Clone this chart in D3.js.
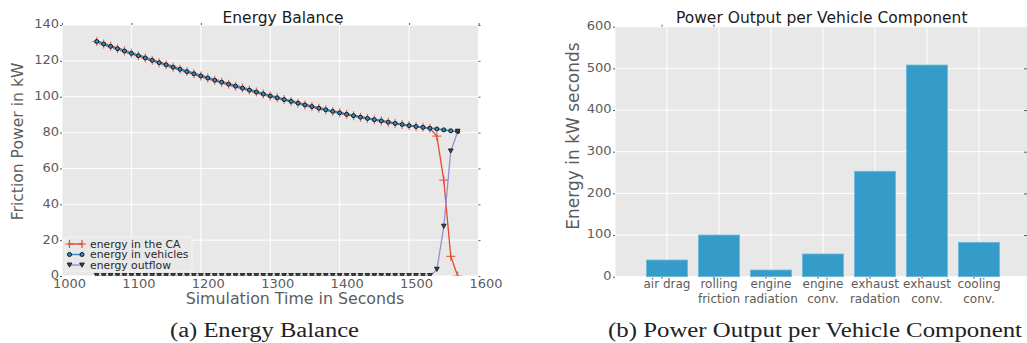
<html>
  <head>
    <script src="https://d3js.org/d3.v7.min.js"></script>
    <style>
      body { margin: 0; background: white; }
      text { font-family: "DejaVu Sans", sans-serif; }
      .tick text { fill: #5c5c5c; font-size: 13px; }
      .tick line { stroke: #5c5c5c; }
      .domain { display: none; }
      .grid line { stroke: white; stroke-width: 1; }
      .caption { font-family: "Liberation Serif", serif; font-size: 20px; fill: #222; }
      .title { font-size: 15.5px; fill: #1a1a1a; }
      .axis-label { fill: #5c5c5c; }
    </style>
  </head>
  <body>
    <svg id="chart" width="1027" height="343"></svg>
    <script>
      // ---- (a) energy balance ----
      var times = [1050,1060,1070,1080,1090,1100,1110,1120,1130,1140,1150,1160,1170,1180,1190,
        1200,1210,1220,1230,1240,1250,1260,1270,1280,1290,1300,1310,1320,1330,1340,1350,1360,
        1370,1380,1390,1400,1410,1420,1430,1440,1450,1460,1470,1480,1490,1500,1510,1520,1530,
        1540,1550,1560,1570];
      var energyVehicles = [130.8,129.4,128.1,126.8,125.5,124.2,122.9,121.6,120.3,119.0,117.8,
        116.5,115.3,114.0,112.8,111.6,110.4,109.2,108.1,107.0,105.9,104.8,103.7,102.6,101.5,
        100.4,99.4,98.4,97.4,96.4,95.4,94.5,93.6,92.7,91.8,91.0,90.2,89.4,88.6,87.9,87.2,86.5,
        85.8,85.1,84.5,83.9,83.4,82.9,82.4,82.0,81.5,81.0,80.5];
      var energyCA = [130.8,129.4,128.1,126.8,125.5,124.2,122.9,121.6,120.3,119.0,117.8,
        116.5,115.3,114.0,112.8,111.6,110.4,109.2,108.1,107.0,105.9,104.8,103.7,102.6,101.5,
        100.4,99.4,98.4,97.4,96.4,95.4,94.5,93.6,92.7,91.8,91.0,90.2,89.4,88.6,87.9,87.2,86.5,
        85.8,85.1,84.5,83.9,83.4,82.9,82.4,78.0,53.5,11.0,0.0];
      var energyOutflow = [0,0,0,0,0,0,0,0,0,0,0,0,0,0,0,0,0,0,0,0,0,0,0,0,0,0,0,0,0,0,0,0,
        0,0,0,0,0,0,0,0,0,0,0,0,0,0,0,0,0,3.5,27.5,69.5,80.5];
      var xTicksA = [1000,1100,1200,1300,1400,1500,1600];
      var yTicksA = [0,20,40,60,80,100,120,140];
      var seriesNames = ["energy in the CA", "energy in vehicles", "energy outflow"];

      // ---- (b) power output per component ----
      var components = [["air drag"], ["rolling", "friction"], ["engine", "radiation"],
        ["engine", "conv."], ["exhaust", "radation"], ["exhaust", "conv."], ["cooling", "conv."]];
      var componentEnergy = [40, 100, 16, 54.5, 253, 508, 82.5];
      var yTicksB = [0,100,200,300,400,500,600];

      var svg = d3.select('#chart');
      var bg = '#e8e8e8';

      // ============ left panel ============
      var xA = d3.scaleLinear().domain([1000, 1600]).range([62, 478.5]);
      var yA = d3.scaleLinear().domain([0, 140]).range([276, 25]);

      var gA = svg.append('g');
      gA.append('rect').attr('x', xA(1000)).attr('y', yA(140))
        .attr('width', xA(1600) - xA(1000)).attr('height', yA(0) - yA(140)).attr('fill', bg);

      gA.append('g').attr('class', 'grid').selectAll('line').data(xTicksA).join('line')
        .attr('x1', d => xA(d)).attr('x2', d => xA(d)).attr('y1', yA(0)).attr('y2', yA(140));
      gA.append('g').attr('class', 'grid').selectAll('line').data(yTicksA).join('line')
        .attr('x1', xA(1000)).attr('x2', xA(1600)).attr('y1', d => yA(d)).attr('y2', d => yA(d));

      var axLeftA = gA.append('g').attr('transform', `translate(${xA(1000)},0)`)
        .call(d3.axisLeft(yA).tickValues(yTicksA).tickSize(2).tickPadding(1));
      axLeftA.selectAll('text').attr('dy', '0.22em');
      gA.append('g').attr('transform', `translate(${xA(1600)},0)`)
        .call(d3.axisRight(yA).tickValues(yTicksA).tickSize(2).tickFormat(''));
      gA.append('g').attr('transform', `translate(0,${yA(140)})`)
        .call(d3.axisTop(xA).tickValues(xTicksA).tickSize(2).tickFormat(''));
      var axBottomA = gA.append('g').attr('transform', `translate(0,${yA(0)})`)
        .call(d3.axisBottom(xA).tickValues(xTicksA).tickSize(0).tickPadding(2.8).tickFormat(d3.format('d')));
      axBottomA.selectAll('text').attr('dx', 7);

      gA.append('text').attr('class', 'title').attr('x', 283).attr('y', 22.5)
        .attr('text-anchor', 'middle').text('Energy Balance');
      gA.append('text').attr('class', 'axis-label').attr('x', 295).attr('y', 303.5)
        .attr('text-anchor', 'middle').style('font-size', '15.8px').text('Simulation Time in Seconds');
      gA.append('text').attr('class', 'axis-label').style('font-size', '15.6px')
        .attr('transform', 'translate(23,141.5) rotate(-90)')
        .attr('text-anchor', 'middle').text('Friction Power in kW');

      svg.append('defs').append('clipPath').attr('id', 'clipA').append('rect')
        .attr('x', xA(1000)).attr('y', yA(140))
        .attr('width', xA(1600) - xA(1000)).attr('height', yA(0) - yA(140));

      var plotA = gA.append('g').attr('clip-path', 'url(#clipA)');
      var lineOf = vals => d3.line().x((d, i) => xA(times[i])).y(d => yA(d))(vals);

      var red = '#e24a33', blue = '#348abd', purple = '#988ed5';
      function plusPath(s) {
        return `M${-s},0H${s}M0,${-s}V${s}`;
      }
      var triPath = 'M-2.4,-2L2.4,-2L0,2.2Z';

      // CA
      plotA.append('path').attr('d', lineOf(energyCA)).attr('fill', 'none')
        .attr('stroke', red).attr('stroke-width', 1.3);
      plotA.append('g').selectAll('path').data(energyCA).join('path')
        .attr('transform', (d, i) => `translate(${xA(times[i])},${yA(d)})`)
        .attr('d', plusPath(4.5)).attr('stroke', red).attr('stroke-width', 1.2).attr('fill', 'none')
        .attr('opacity', 0.8);
      // vehicles
      plotA.append('path').attr('d', lineOf(energyVehicles)).attr('fill', 'none')
        .attr('stroke', blue).attr('stroke-width', 1.6);
      plotA.append('g').selectAll('circle').data(energyVehicles).join('circle')
        .attr('cx', (d, i) => xA(times[i])).attr('cy', d => yA(d)).attr('r', 2)
        .attr('fill', blue).attr('stroke', '#111').attr('stroke-width', 1);
      // outflow
      plotA.append('path').attr('d', lineOf(energyOutflow)).attr('fill', 'none')
        .attr('stroke', purple).attr('stroke-width', 1.3);
      plotA.append('g').selectAll('path').data(energyOutflow).join('path')
        .attr('transform', (d, i) => `translate(${xA(times[i])},${yA(d) - 0.5})`)
        .attr('d', triPath).attr('fill', '#444').attr('stroke', '#111').attr('stroke-width', 0.8);

      // legend
      var lg = gA.append('g').attr('transform', 'translate(66,237)');
      lg.append('rect').attr('width', 126).attr('height', 34).attr('fill', bg)
        .attr('stroke', '#f4f4f4').attr('stroke-width', 1);
      seriesNames.forEach(function(name, i) {
        var row = lg.append('g').attr('transform', `translate(0,${7 + i * 10.5})`);
        var c = [red, blue, purple][i];
        row.append('line').attr('x1', 2).attr('x2', 17).attr('stroke', c).attr('stroke-width', 1.4);
        [3.5, 16].forEach(function(px) {
          if (i === 0) row.append('path').attr('transform', `translate(${px},0)`).attr('d', plusPath(4))
            .attr('stroke', red).attr('stroke-width', 1.2);
          if (i === 1) row.append('circle').attr('cx', px).attr('r', 2).attr('fill', blue)
            .attr('stroke', '#111');
          if (i === 2) row.append('path').attr('transform', `translate(${px},0)`).attr('d', triPath)
            .attr('fill', '#444').attr('stroke', '#111').attr('stroke-width', 0.8);
        });
        row.append('text').attr('x', 24).attr('y', 3.8).style('font-size', '10.8px')
          .attr('fill', '#2a2a2a').text(name);
      });

      svg.append('text').attr('class', 'caption').attr('x', 264.5).attr('y', 336.5)
        .attr('text-anchor', 'middle').attr('textLength', 189).attr('lengthAdjust', 'spacingAndGlyphs')
        .text('(a) Energy Balance');

      // ============ right panel ============
      var xB = d3.scaleLinear().domain([-1, components.length]).range([615, 1031]);
      var yB = d3.scaleLinear().domain([0, 600]).range([276.7, 26.7]);
      var idx = components.map((d, i) => i);
      var gridXB = [-1].concat(idx).concat([components.length]);

      var gB = svg.append('g');
      gB.append('rect').attr('x', xB(-1)).attr('y', yB(600))
        .attr('width', xB(components.length) - xB(-1)).attr('height', yB(0) - yB(600)).attr('fill', bg);
      gB.append('g').attr('class', 'grid').selectAll('line').data(gridXB).join('line')
        .attr('x1', d => xB(d)).attr('x2', d => xB(d)).attr('y1', yB(0)).attr('y2', yB(600));
      gB.append('g').attr('class', 'grid').selectAll('line').data(yTicksB).join('line')
        .attr('x1', xB(-1)).attr('x2', xB(components.length)).attr('y1', d => yB(d)).attr('y2', d => yB(d));

      var axLeftB = gB.append('g').attr('transform', `translate(${xB(-1)},0)`)
        .call(d3.axisLeft(yB).tickValues(yTicksB).tickSize(2).tickPadding(1.5));
      axLeftB.selectAll('text').attr('dy', '0.22em');
      gB.append('g').attr('transform', 'translate(1027,0)')
        .call(d3.axisLeft(yB).tickValues(yTicksB.slice(1, 6)).tickSize(3).tickFormat(''));
      gB.append('g').attr('transform', `translate(-5.5,${yB(600)})`)
        .call(d3.axisTop(xB).tickValues(idx.slice(0, 2)).tickSize(2).tickFormat(''));
      gB.append('g').attr('transform', `translate(-5.5,${yB(0)})`)
        .call(d3.axisBottom(xB).tickValues(idx).tickSize(2).tickFormat(''));

      var barW = 0.79;
      gB.append('g').selectAll('rect').data(componentEnergy).join('rect')
        .attr('x', (d, i) => xB(i - barW / 2)).attr('width', xB(barW) - xB(0))
        .attr('y', d => yB(d)).attr('height', d => yB(0) - yB(d))
        .attr('fill', '#359cca').attr('stroke', '#6fb8db').attr('stroke-width', 0.8);

      var xl = gB.append('g').selectAll('text').data(components).join('text')
        .attr('x', (d, i) => xB(i)).attr('y', 288.3).attr('text-anchor', 'middle')
        .style('font-size', '12px').attr('fill', '#5c5c5c');
      xl.each(function(lines) {
        var t = d3.select(this);
        lines.forEach(function(s, k) {
          t.append('tspan').attr('x', t.attr('x')).attr('dy', k === 0 ? 0 : 15).text(s);
        });
      });

      gB.append('text').attr('class', 'title').attr('x', 821.7).attr('y', 22.5)
        .attr('text-anchor', 'middle').text('Power Output per Vehicle Component');
      gB.append('text').attr('class', 'axis-label').style('font-size', '17px')
        .attr('transform', 'translate(579,136) rotate(-90)')
        .attr('text-anchor', 'middle').text('Energy in kW seconds');

      svg.append('text').attr('class', 'caption').attr('x', 815).attr('y', 336.5)
        .attr('text-anchor', 'middle').attr('textLength', 414).attr('lengthAdjust', 'spacingAndGlyphs')
        .text('(b) Power Output per Vehicle Component');
    </script>
  </body>
</html>
